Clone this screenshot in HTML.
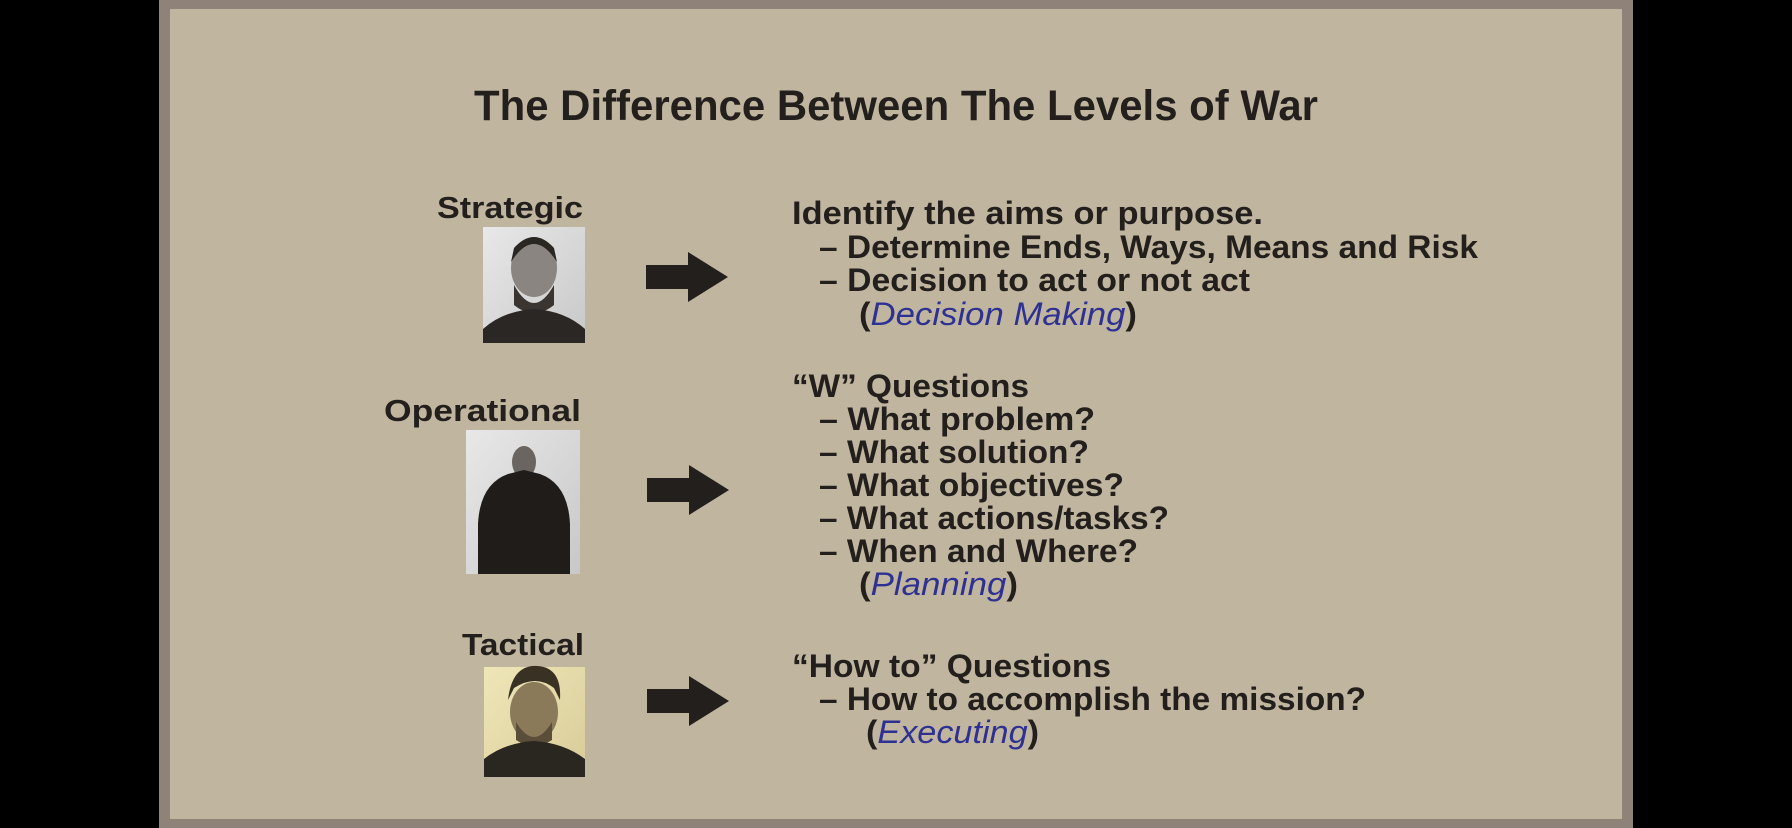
<!DOCTYPE html>
<html><head><meta charset="utf-8"><style>
html,body{margin:0;padding:0;background:#000;width:1792px;height:828px;overflow:hidden}
svg{display:block}
text{font-family:"Liberation Sans",sans-serif;font-weight:bold;fill:#231f1c}
.b{fill:#2e3192;font-style:italic;font-weight:normal}
</style></head><body>
<svg width="1792" height="828" viewBox="0 0 1792 828" xmlns="http://www.w3.org/2000/svg">
<defs>
<linearGradient id="g1" x1="0" y1="0" x2="1" y2="1"><stop offset="0" stop-color="#e8e8e8"/><stop offset="1" stop-color="#c8c8c8"/></linearGradient>
<linearGradient id="g3" x1="0" y1="0" x2="1" y2="1"><stop offset="0" stop-color="#efe6b8"/><stop offset="1" stop-color="#d8cc98"/></linearGradient>
<g id="arr"><polygon points="0,-12 42,-12 42,-25 82,0 42,25 42,12 0,12" fill="#231f1c"/></g>
</defs>
<rect x="159" y="0" width="1474" height="828" fill="#8f8278"/>
<rect x="170" y="9" width="1452" height="810" fill="#c0b59f"/>
<text x="474" y="120" font-size="43" textLength="844" lengthAdjust="spacingAndGlyphs">The Difference Between The Levels of War</text>

<text x="437" y="218" font-size="31" textLength="146" lengthAdjust="spacingAndGlyphs">Strategic</text>
<rect x="483" y="227" width="102" height="116" fill="url(#g1)"/>
<ellipse cx="534" cy="268" rx="23" ry="29" fill="#8a8580"/>
<path d="M511 262 q23 -36 46 0 l-3 -14 q-20 -22 -40 0z" fill="#2a2622"/>
<path d="M514 285 q20 36 40 0 l0 20 q-20 16 -40 0z" fill="#3a3531"/>
<path d="M483 343 l0 -14 q20 -18 51 -20 q31 2 51 20 l0 14z" fill="#2b2724"/>
<use href="#arr" x="646" y="277"/>
<text x="792" y="224" font-size="32" textLength="471" lengthAdjust="spacingAndGlyphs">Identify the aims or purpose.</text>
<text x="819" y="258" font-size="32" textLength="659" lengthAdjust="spacingAndGlyphs">– Determine Ends, Ways, Means and Risk</text>
<text x="819" y="291" font-size="32" textLength="431" lengthAdjust="spacingAndGlyphs">– Decision to act or not act</text>
<text x="859" y="325" font-size="32" textLength="278" lengthAdjust="spacingAndGlyphs">(<tspan class="b">Decision Making</tspan>)</text>

<text x="384" y="421" font-size="31" textLength="197" lengthAdjust="spacingAndGlyphs">Operational</text>
<rect x="466" y="430" width="114" height="144" fill="url(#g1)"/>
<ellipse cx="524" cy="462" rx="12" ry="16" fill="#6a6560"/>
<path d="M478 574 l0 -50 q2 -40 30 -50 l16 -4 l16 4 q28 10 30 50 l0 50z" fill="#1f1c1a"/>
<use href="#arr" x="647" y="490"/>
<text x="792" y="397" font-size="32" textLength="237" lengthAdjust="spacingAndGlyphs">“W” Questions</text>
<text x="819" y="430" font-size="32" textLength="276" lengthAdjust="spacingAndGlyphs">– What problem?</text>
<text x="819" y="463" font-size="32" textLength="270" lengthAdjust="spacingAndGlyphs">– What solution?</text>
<text x="819" y="496" font-size="32" textLength="305" lengthAdjust="spacingAndGlyphs">– What objectives?</text>
<text x="819" y="529" font-size="32" textLength="350" lengthAdjust="spacingAndGlyphs">– What actions/tasks?</text>
<text x="819" y="562" font-size="32" textLength="319" lengthAdjust="spacingAndGlyphs">– When and Where?</text>
<text x="859" y="595" font-size="32" textLength="159" lengthAdjust="spacingAndGlyphs">(<tspan class="b">Planning</tspan>)</text>

<text x="462" y="655" font-size="31" textLength="122" lengthAdjust="spacingAndGlyphs">Tactical</text>
<rect x="484" y="667" width="101" height="110" fill="url(#g3)"/>
<ellipse cx="534" cy="712" rx="24" ry="30" fill="#8a7a5a"/>
<path d="M508 700 q4 -36 30 -34 q24 2 22 34 l-6 -12 q-18 -14 -40 0z" fill="#3a3125"/>
<path d="M516 722 q18 30 36 0 l0 18 q-18 12 -36 0z" fill="#5a4d3a"/>
<path d="M484 777 l0 -18 q20 -16 50 -18 q30 2 51 18 l0 18z" fill="#2a2620"/>
<use href="#arr" x="647" y="701"/>
<text x="792" y="677" font-size="32" textLength="319" lengthAdjust="spacingAndGlyphs">“How to” Questions</text>
<text x="819" y="710" font-size="32" textLength="547" lengthAdjust="spacingAndGlyphs">– How to accomplish the mission?</text>
<text x="866" y="743" font-size="32" textLength="173" lengthAdjust="spacingAndGlyphs">(<tspan class="b">Executing</tspan>)</text>
</svg>
</body></html>
